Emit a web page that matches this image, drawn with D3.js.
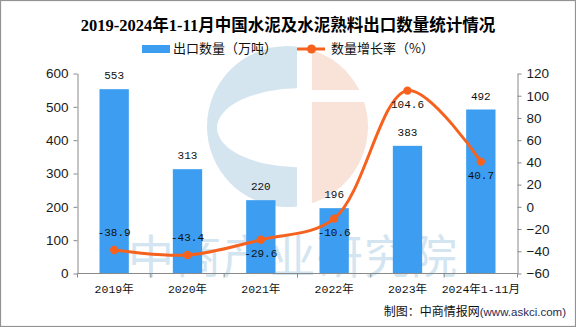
<!DOCTYPE html>
<html>
<head>
<meta charset="utf-8">
<script src="https://cdn.jsdelivr.net/npm/d3@7"></script>
<style>
html,body{margin:0;padding:0;background:#fff;}
svg{display:block;}
</style>
</head>
<body>
<svg id="chart" width="576" height="327"></svg>
<script>
const categories = ["2019年","2020年","2021年","2022年","2023年","2024年1-11月"];
const exportVolume = [553, 313, 220, 196, 383, 492];
const growthRate = [-38.9, -43.4, -29.6, -10.6, 104.6, 40.7];
const growthLabelPos = ["top","top","bottom","bottom","bottom","bottom"];
const leftTicks = [0, 100, 200, 300, 400, 500, 600];
const rightTicks = [-60, -40, -20, 0, 20, 40, 60, 80, 100, 120];
const titleText = "2019-2024年1-11月中国水泥及水泥熟料出口数量统计情况";
const legendBar = "出口数量（万吨）";
const legendLine = "数量增长率（%）";
const watermarkText = "中商产业研究院";
const footerMain = "制图：中商情报网";
const footerUrl = "(www.askci.com)";

const W = 576, H = 327;
const plot = {left: 77.5, right: 517.5, top: 73.5, bottom: 273.5};
const barColor = "#3d9ef1";
const lineColor = "#f6621e";
const axisColor = "#8a8a8a";
const CJK = "'Noto Sans CJK SC', sans-serif";
const MONO = "'Liberation Mono', 'Noto Sans CJK SC', monospace";

const svg = d3.select("#chart");

// background + border
svg.append("rect").attr("x",0.5).attr("y",0.5).attr("width",W-1).attr("height",H-1)
  .attr("fill","#fff").attr("stroke","#939393").attr("stroke-width",1.2);

// ---- watermark logo ----
const wm = svg.append("g").attr("class","watermark");
const defs = svg.append("defs");
defs.append("clipPath").attr("id","leftHalf").append("rect")
  .attr("x",200).attr("y",40).attr("width",97).attr("height",180);
defs.append("clipPath").attr("id","rightHalf").append("rect")
  .attr("x",312).attr("y",40).attr("width",70).attr("height",180);
const cx = 287.5, cy = 126.5, r = 80.5;
const lg = wm.append("g").attr("clip-path","url(#leftHalf)");
lg.append("circle").attr("cx",cx).attr("cy",cy).attr("r",r).attr("fill","#d4e5ef");
lg.append("ellipse").attr("cx",300).attr("cy",127.8).attr("rx",83).attr("ry",39.5).attr("fill","#fff");
const rg = wm.append("g").attr("clip-path","url(#rightHalf)");
rg.append("circle").attr("cx",cx).attr("cy",cy).attr("r",r).attr("fill","#f9e2d8");
rg.append("rect").attr("x",312).attr("y",90).attr("width",70).attr("height",12).attr("fill","#fff");

wm.append("text").attr("x",128).attr("y",273)
  .attr("font-family",CJK).attr("font-weight","normal").attr("font-size",46)
  .attr("fill","#d3e5f0").attr("textLength",329).attr("lengthAdjust","spacing")
  .text(watermarkText);

// ---- scales ----
const x = d3.scaleBand().domain(categories).range([plot.left, plot.right])
  .paddingInner(0.6).paddingOuter(0.3);
const yL = d3.scaleLinear().domain([0, 600]).range([plot.bottom, plot.top]);
const yR = d3.scaleLinear().domain([-60, 120]).range([plot.bottom, plot.top]);
const cxOf = d => x(d) + x.bandwidth()/2;

// ---- bars ----
svg.append("g").selectAll("rect").data(categories).join("rect")
  .attr("x", d => x(d)).attr("width", x.bandwidth())
  .attr("y", (d,i) => yL(exportVolume[i]))
  .attr("height", (d,i) => plot.bottom - yL(exportVolume[i]))
  .attr("fill", barColor);

svg.append("g").selectAll("text").data(categories).join("text")
  .attr("x", d => cxOf(d)).attr("y", (d,i) => yL(exportVolume[i]) - 10)
  .attr("text-anchor","middle").attr("font-family",MONO).attr("font-size",11)
  .attr("fill","#111").text((d,i) => exportVolume[i]);

// ---- axes ----
const axL = svg.append("g").attr("transform",`translate(${plot.left},0)`)
  .call(d3.axisLeft(yL).tickValues(leftTicks).tickSize(4).tickSizeOuter(0).tickPadding(5));
const axR = svg.append("g").attr("transform",`translate(${plot.right},0)`)
  .call(d3.axisRight(yR).tickValues(rightTicks).tickSize(4).tickSizeOuter(0).tickPadding(5));
[axL, axR].forEach(a => {
  a.select(".domain").attr("stroke",axisColor);
  a.selectAll(".tick line").attr("stroke",axisColor);
  a.selectAll(".tick text").attr("font-family","'Liberation Sans', Arial, sans-serif")
    .attr("font-size",13.5).attr("fill","#1a1a1a");
});

// x axis: line + boundary ticks
const xAx = svg.append("g");
xAx.append("line").attr("x1",plot.left).attr("x2",plot.right)
  .attr("y1",plot.bottom).attr("y2",plot.bottom).attr("stroke",axisColor);
const boundaryX = categories.map((d,i) => plot.left + i*x.step()).concat([plot.right]);
xAx.selectAll("line.t").data(boundaryX).join("line").attr("class","t")
  .attr("x1",d=>d).attr("x2",d=>d).attr("y1",plot.bottom).attr("y2",plot.bottom+4)
  .attr("stroke",axisColor);
xAx.selectAll("text").data(categories).join("text")
  .attr("x", d => cxOf(d)).attr("y", plot.bottom + 19)
  .attr("text-anchor","middle").attr("font-family",MONO).attr("font-size",11.5)
  .attr("fill","#111").text(d => d);

// ---- line ----
const pts = categories.map((d,i) => [cxOf(d), yR(growthRate[i])]);
const line = d3.line().curve(d3.curveCatmullRom.alpha(0.5));
svg.append("path").attr("d", line(pts)).attr("fill","none")
  .attr("stroke",lineColor).attr("stroke-width",3);
svg.append("g").selectAll("circle").data(pts).join("circle")
  .attr("cx",d=>d[0]).attr("cy",d=>d[1]).attr("r",4.2).attr("fill",lineColor);
svg.append("g").selectAll("text").data(categories).join("text")
  .attr("x", d => cxOf(d))
  .attr("y", (d,i) => yR(growthRate[i]) + (growthLabelPos[i] === "top" ? -14 : 17))
  .attr("text-anchor","middle").attr("font-family",MONO).attr("font-size",11)
  .attr("fill","#111").text((d,i) => growthRate[i]);

// ---- title ----
svg.append("text").attr("x",288).attr("y",31).attr("text-anchor","middle")
  .attr("font-family","'Liberation Serif', 'Noto Sans CJK SC', serif")
  .attr("font-weight","bold").attr("font-size",16.5).attr("fill","#000")
  .text(titleText);

// ---- legend ----
const leg = svg.append("g");
leg.append("rect").attr("x",142).attr("y",45).attr("width",28).attr("height",8).attr("fill",barColor);
leg.append("text").attr("x",173).attr("y",53).attr("font-family",CJK).attr("font-size",13)
  .attr("fill","#111").text(legendBar);
leg.append("line").attr("x1",297).attr("x2",325).attr("y1",49).attr("y2",49)
  .attr("stroke",lineColor).attr("stroke-width",3);
leg.append("circle").attr("cx",311.5).attr("cy",49).attr("r",4.5).attr("fill",lineColor);
leg.append("text").attr("x",331).attr("y",53).attr("font-family",CJK).attr("font-size",13)
  .attr("fill","#111").text(legendLine);

// ---- footer ----
const ft = svg.append("text").attr("x",566).attr("y",316).attr("text-anchor","end")
  .attr("font-family",CJK).attr("font-size",12).attr("fill","#111");
ft.append("tspan").text(footerMain);
ft.append("tspan").attr("font-family","'Liberation Sans', Arial, sans-serif").attr("font-size",11.5)
  .attr("fill","#2a2a50").text(footerUrl);
</script>
</body>
</html>
